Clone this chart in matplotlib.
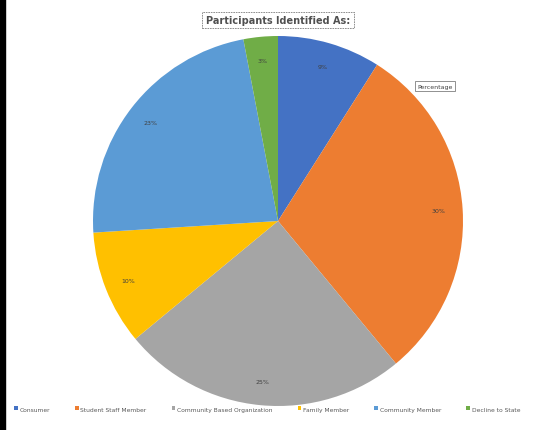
import matplotlib.pyplot as plt
from matplotlib.patches import Rectangle

labels = ["Consumer", "Student Staff Member", "Community Based Organization",
          "Family Member", "Community Member", "Decline to State"]
values = [9, 30, 25, 10, 23, 3]
colors = ["#4472C4", "#ED7D31", "#A5A5A5", "#FFC000", "#5B9BD5", "#70AD47"]

fig = plt.figure(figsize=(5.38, 4.31), dpi=100)
W, H = 538, 431

# pie centred near (278, 222) px, radius ~185 px
cx, cy, r = 278, 222, 185
ax = fig.add_axes([(cx - r) / W, (H - cy - r) / H, 2 * r / W, 2 * r / H])
wedges, texts, autotexts = ax.pie(
    values, colors=colors, startangle=90, counterclock=False,
    autopct="%d%%", pctdistance=0.87,
    wedgeprops=dict(edgecolor="none"),
    textprops=dict(fontsize=4.5, color="#404040"))
ax.set_xlim(-1, 1)
ax.set_ylim(-1, 1)
ax.set_aspect("equal")

# title in a dashed frame
fig.text(cx / W, 1 - 21 / H, "Participants Identified As:", ha="center", va="center",
         fontsize=7, fontweight="bold", color="#505050",
         bbox=dict(boxstyle="square,pad=0.35", fc="white", ec="#7f7f7f",
                   ls=(0, (2, 1)), lw=0.6))

# series name box
fig.text(435 / W, 1 - 87 / H, "Percentage", ha="center", va="center",
         fontsize=4.5, color="#404040",
         bbox=dict(boxstyle="square,pad=0.4", fc="white", ec="#7f7f7f", lw=0.6))

fig.legend(wedges, labels, loc="center left", bbox_to_anchor=(14 / W, 1 - 410 / H),
           ncol=6, frameon=False, fontsize=4.3, handlelength=0.6, handleheight=0.6,
           columnspacing=4.2, handletextpad=0.3, labelcolor="#595959",
           borderaxespad=0, borderpad=0)

# dark strip along the left edge
fig.patches.append(Rectangle((0, 0), 5 / W, 1, transform=fig.transFigure,
                             color="black", zorder=5))

fig.savefig("out.png", dpi=100)
